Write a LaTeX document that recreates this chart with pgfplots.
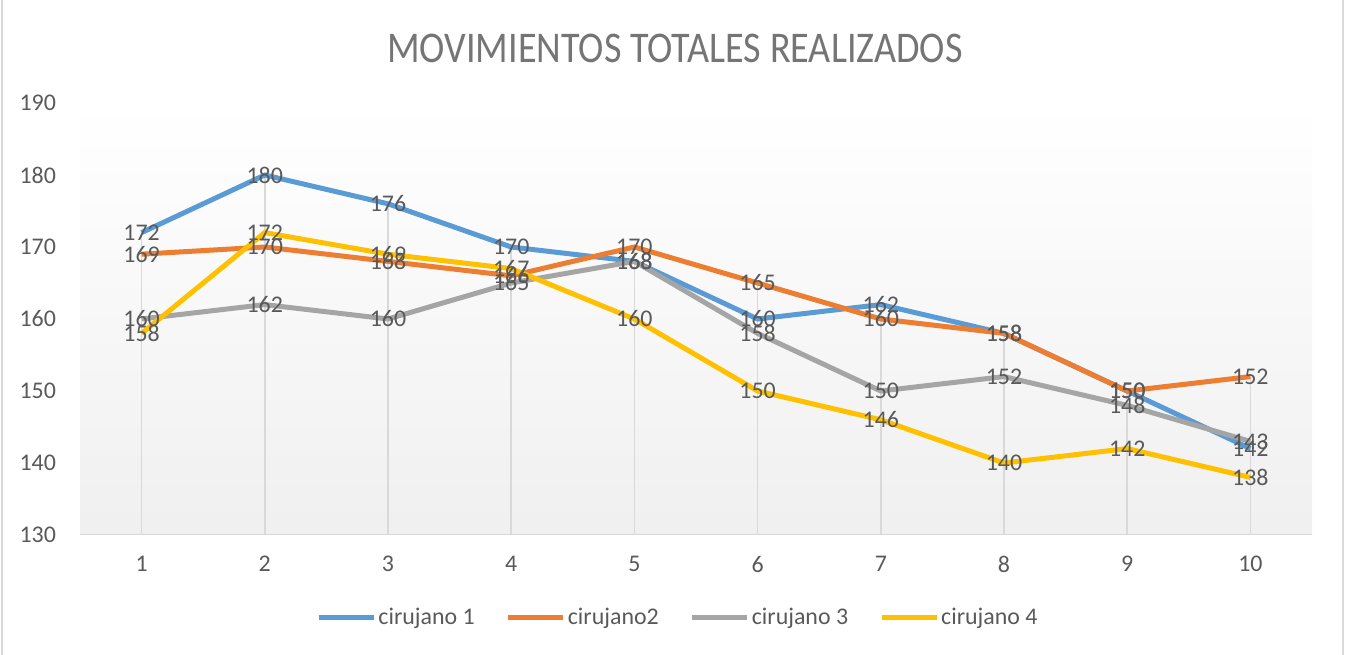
\documentclass[border=0pt]{standalone}
\usepackage{fontspec}
\setmainfont{Carlito}
\newfontfamily\titulo[FakeStretch=0.87]{Carlito}
\usepackage{pgfplots}
\pgfplotsset{compat=1.18}
\usepackage{pgfplotstable}

\definecolor{c1}{HTML}{5B9BD5}
\definecolor{c2}{HTML}{ED7D31}
\definecolor{c3}{HTML}{A5A5A5}
\definecolor{c4}{HTML}{FFC000}
\definecolor{txt}{HTML}{595959}
\definecolor{tit}{HTML}{757575}
\definecolor{rejilla}{HTML}{D9D9D9}

\pgfplotstableread{
x  c1  c2  c3  c4
1  172 169 160 158
2  180 170 162 172
3  176 168 160 169
4  170 166 165 167
5  168 170 168 160
6  160 165 158 150
7  162 160 150 146
8  158 158 152 140
9  150 150 148 142
10 142 152 143 138
}\datos

\begin{document}
\begin{tikzpicture}
\useasboundingbox (0bp,0bp) rectangle (675bp,327.5bp);
\draw[draw=rejilla, line width=0.75bp] (1bp,0bp) -- (1bp,327.5bp);
\draw[draw=rejilla, line width=0.75bp] (671.5bp,0bp) -- (671.5bp,327.5bp);
\node[text=tit, font=\titulo\fontsize{22}{26}\selectfont] at (337.5bp,303.5bp) {MOVIMIENTOS TOTALES REALIZADOS};
\begin{axis}[at={(40bp,60bp)}, anchor=south west, scale only axis,
  width=616bp, height=216bp,
  xmin=0.5, xmax=10.5, ymin=130, ymax=190,
  xtick={1,...,10}, ytick={130,140,...,190},
  major tick length=0, axis line style={draw=none},
  /pgf/number format/assume math mode=true,
  tick label style={font=\fontsize{12}{14}\selectfont, text=txt},
  yticklabel style={xshift=-8.5bp},
  xticklabel style={yshift=-7bp},
  axis background/.style={shade, top color=white, bottom color=black!6},
  legend style={at={(0.485,-0.192)}, anchor=center, draw=none, fill=none,
    legend columns=4, font=\fontsize{12}{14}\selectfont, text=txt,
    nodes={inner sep=0.5bp},
    /tikz/every odd column/.append style={column sep=0.5bp},
    /tikz/every even column/.append style={column sep=15bp}},
  legend image code/.code={\draw[#1] (0bp,0bp) -- (27.5bp,0bp);},
  every axis plot/.append style={line width=2.5bp},
]
% lineas de caida
\foreach \c in {c1,c2,c3,c4}{
  \addplot[ycomb, draw=rejilla, line width=0.75bp, no marks, forget plot] table[x=x, y=\c] {\datos};
}
\addplot[c1, no marks] table[x=x, y=c1] {\datos};
\addplot[c2, no marks] table[x=x, y=c2] {\datos};
\addplot[c3, no marks] table[x=x, y=c3] {\datos};
\addplot[c4, no marks] table[x=x, y=c4] {\datos};
\legend{cirujano 1, cirujano2, cirujano 3, cirujano 4}
% etiquetas
\foreach \c in {c1,c2,c3,c4}{
  \addplot[draw=none, no marks, forget plot, nodes near coords,
    every node near coord/.style={anchor=center, text=txt, font=\fontsize{12}{14}\selectfont}]
    table[x=x, y=\c] {\datos};
}
\draw[rejilla, line width=0.75bp] (rel axis cs:0,0) -- (rel axis cs:1,0);
\end{axis}
\end{tikzpicture}
\end{document}
